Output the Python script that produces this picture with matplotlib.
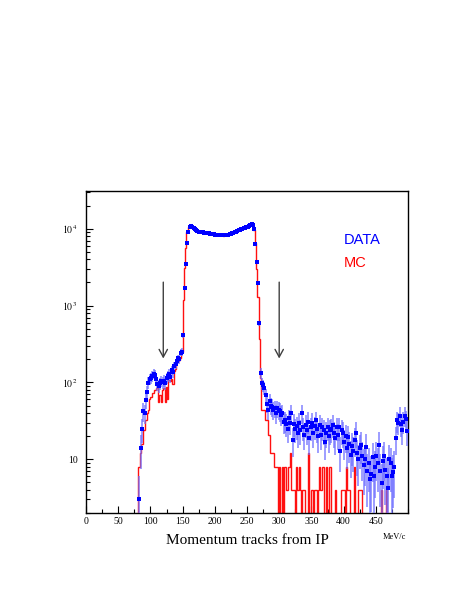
import numpy as np
import matplotlib
matplotlib.use("Agg")
import matplotlib.pyplot as plt
from matplotlib.ticker import FixedLocator, MultipleLocator, LogLocator, NullFormatter

plt.rcParams['font.family'] = ['Liberation Serif', 'DejaVu Serif']
plt.rcParams['mathtext.fontset'] = 'stix'

# ---- binning: 2 MeV/c bins from 0 to 500 (first filled bin at 80) ----
bin_width = 2.0
x_min, x_max = 0.0, 500.0
first_filled = 80.0

# ---- DATA (counts per bin) ----
data_rise = [0, 3, 14, 25, 42, 40, 59, 76, 99, 112, 115, 121, 130, 126, 110,
             95, 90, 98, 104, 100, 106, 98, 115, 120, 130, 118, 145, 135, 165,
             172, 190, 205, 200, 245, 250]
data_peak = [410, 1700, 3450, 6600, 9100, 10500, 10900, 10600, 10300, 10000,
             9700, 9400, 9200, 9100, 9000, 8950, 8900, 8850, 8800, 8750,
             8700, 8650, 8600, 8500, 8450, 8400, 8350, 8300, 8300, 8250,
             8250, 8200, 8250, 8300, 8350, 8400, 8500, 8600, 8700, 8850,
             9000, 9200, 9350, 9500, 9650, 9800, 9950, 10100, 10300, 10500,
             10700, 10900, 11200, 11400, 11200, 10000, 6300, 3700, 1950, 590]
data_tail = [132, 98, 92, 84, 68,
             53, 44, 58, 50, 48,
             44, 46, 40, 46, 44,
             42, 38, 40, 31, 32,
             29, 25, 34, 30, 40,
             18, 29, 25, 27, 22,
             30, 24, 40, 26, 21,
             28, 24, 31, 19, 26,
             30, 22, 27, 32, 25,
             20, 28, 21, 26, 24,
             17, 22, 26, 20, 24,
             25, 28, 22, 19, 26,
             21, 26, 13, 24, 22,
             17, 20, 14, 19.6, 16,
             11.5, 15, 13, 18, 22,
             12, 10, 14, 15.5, 11,
             8.5, 10, 14.5, 7, 9,
             5.5, 6.5, 10.7, 6, 8,
             11, 9, 15.5, 7, 4.9,
             9.5, 11, 7.2, 6, 4.2,
             10, 9, 6, 6.9, 8,
             18.7, 32, 30, 37, 29,
             24, 31, 37, 33, 23]

# ---- MC (weighted counts per bin) ----
mc_rise = [8, 8, 12, 16, 24, 24, 32, 40, 44, 60, 64, 72, 72, 80, 84, 96, 56,
           68, 56, 80, 84, 56, 88, 60, 108, 104, 112, 96, 140, 148, 180, 190,
           196, 210, 250]
mc_peak = [1200, 3100, 5600, 9000, 10600, 11000, 10800, 10500, 10200, 9800,
           9600, 9300, 9200, 9000, 9000, 8900, 8850, 8900, 8750, 8700,
           8650, 8650, 8550, 8500, 8400, 8400, 8300, 8300, 8250, 8200,
           8200, 8050, 8200, 8300, 8300, 8450, 8500, 8550, 8700, 8800,
           9000, 9100, 9300, 9500, 9700, 9800, 10000, 10200, 10300, 10600,
           10800, 11000, 11300, 11500, 11100, 9500, 6600, 3000, 1300, 370]
mc_tail = [115, 44, 44, 44, 32, 32, 21, 21, 12, 12, 12, 8, 8, 8, 0,
           8, 0, 8, 0, 8, 4, 4, 8, 12, 4, 4, 4, 0, 8, 4, 8, 4, 0, 4, 4,
           0, 0, 12, 0, 0, 4, 0, 4, 4, 0, 4, 8, 4, 8, 8, 0, 8, 0, 0, 8,
           0, 0, 0, 4, 0, 0, 0, 0, 4, 4, 4, 0, 8, 4, 4, 0, 0, 0, 8, 0,
           0, 4, 4, 4, 0,
           0, 0, 0, 0, 0, 0, 0, 0, 0, 0, 0, 0, 0, 0,
           4, 0, 0, 0, 4, 0,
           0, 0, 0, 0, 0, 0, 0, 0, 0, 0, 0, 0, 0, 0, 0]

x_ticks = [0, 50, 100, 150, 200, 250, 300, 350, 400, 450]
y_ticks = [10, 100, 1000, 10000]
y_tick_labels = ['10', r'$10^{\,2}$', r'$10^{\,3}$', r'$10^{\,4}$']
arrow_positions = [120, 300]
arrow_top, arrow_bottom = 2020, 205
y_lim = (2.0, 3.1e4)

# ---- assemble ----
edges = np.arange(x_min, x_max + bin_width / 2, bin_width)
n_bins = len(edges) - 1
n_empty = int(first_filled / bin_width)
data = np.array([0] * n_empty + data_rise + data_peak + data_tail, dtype=float)
mc = np.array([0] * n_empty + mc_rise + mc_peak + mc_tail, dtype=float)
assert len(data) == n_bins, len(data)
assert len(mc) == n_bins, len(mc)
centers = 0.5 * (edges[:-1] + edges[1:])

fig = plt.figure(figsize=(4.63, 5.99), dpi=100)
ax = fig.add_axes([86 / 463, 1 - 513 / 599, (408 - 86) / 463, (513 - 191) / 599])
ax.set_yscale('log')

# MC histogram
mc_plot = np.where(mc > 0, mc, 1e-3)
ax.stairs(mc_plot, edges, color='#ff1010', lw=1.0, baseline=None, zorder=2)

# DATA points with errors
m = data > 0
err = np.sqrt(3.0 * data[m])
lo = np.minimum(err, data[m] * 0.999)
ax.errorbar(centers[m], data[m], yerr=[lo, err], xerr=bin_width / 2,
            fmt='none', ecolor='#7070ff', elinewidth=1.2, alpha=0.8, zorder=3)
ax.plot(centers[m], data[m], 's', color='#0000ff', ms=2.2, mew=0, zorder=4)

# arrows
for xa in arrow_positions:
    ax.annotate('', xy=(xa, arrow_bottom), xytext=(xa, arrow_top),
                arrowprops=dict(arrowstyle='->,head_length=0.55,head_width=0.3',
                                color='#404040', lw=1.0, shrinkA=0, shrinkB=0),
                zorder=5)

ax.set_xlim(x_min, x_max)
ax.set_ylim(*y_lim)

ax.xaxis.set_major_locator(FixedLocator(x_ticks))
ax.xaxis.set_minor_locator(MultipleLocator(25))
ax.set_xticklabels([str(t) for t in x_ticks])
ax.yaxis.set_major_locator(FixedLocator(y_ticks))
ax.set_yticklabels(y_tick_labels)
ax.yaxis.set_minor_locator(LogLocator(base=10, subs=np.arange(2, 10)))
ax.yaxis.set_minor_formatter(NullFormatter())

ax.tick_params(axis='both', which='both', direction='in', top=False, right=False,
               width=0.8, colors='black', labelsize=7)
ax.tick_params(axis='both', which='major', length=5)
ax.tick_params(axis='both', which='minor', length=2.8)
ax.tick_params(axis='y', pad=6)
ax.tick_params(axis='x', pad=3)
for s in ax.spines.values():
    s.set_linewidth(1.0)
    s.set_color('black')

fig.text(247 / 463, 1 - 540 / 599, 'Momentum tracks from IP', ha='center', va='center',
         fontsize=11)
fig.text(394 / 463, 1 - 537 / 599, 'MeV/c', ha='center', va='center', fontsize=6)

fig.text(344 / 463, 1 - 240 / 599, 'DATA', color='#0000ff', ha='left', va='center',
         fontsize=10.5, family='Liberation Sans')
fig.text(344 / 463, 1 - 263 / 599, 'MC', color='#ff0000', ha='left', va='center',
         fontsize=10.5, family='Liberation Sans')

fig.savefig('out.png', dpi=100, facecolor='white')
